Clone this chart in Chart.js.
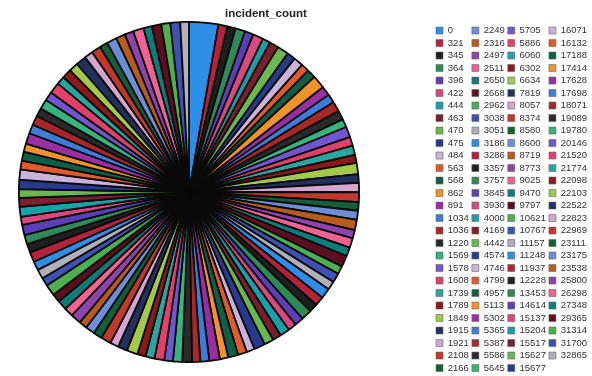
<!DOCTYPE html>
<html><head><meta charset="utf-8">
<script src="https://cdn.jsdelivr.net/npm/chart.js@4.4.0/dist/chart.umd.min.js"></script>
<style>html,body{margin:0;padding:0;background:#fff;}canvas{display:block}</style>
</head><body>
<canvas id="c" width="592" height="376"></canvas>
<script>
const chartTitle = 'incident_count';

const categories = [
  '0','321','345','364','396','422','444','463','470','475','484','563','568','862','891','1034','1036','1220','1569','1578','1608','1739','1789','1849','1915','1921','2108','2166',
  '2249','2316','2497','2511','2650','2668','2962','3038','3051','3186','3286','3357','3757','3845','3930','4000','4169','4442','4574','4746','4799','4957','5113','5302','5365','5387','5586','5645',
  '5705','5886','6060','6302','6634','7819','8057','8374','8580','8600','8719','8773','9025','9470','9797','10621','10767','11157','11248','11937','12228','13453','14614','15137','15204','15517','15627','15677',
  '16071','16132','17188','17414','17628','17698','18071','19089','19780','20146','21520','21774','22098','22103','22522','22823','22969','23111','23175','23538','25800','26298','27348','29365','31314','31700','32865'
];

const incidentCount = [
  310, 96, 88, 104, 92, 110, 84, 98, 120, 90, 102, 86, 94, 140, 100, 92, 108, 96, 88, 112, 94, 100, 86, 118, 92, 98, 104, 90,
  96, 110, 88, 102, 94, 120, 86, 100, 92, 108, 98, 90, 114, 96, 88, 104, 92, 100, 118, 86, 96, 106, 90, 112, 94, 88, 102, 98,
  92, 104, 96, 88, 116, 100, 90, 108, 94, 98, 86, 112, 96, 102, 90, 120, 88, 100, 94, 106, 92, 98, 110, 86, 104, 96, 90, 100,
  108, 92, 98, 86, 114, 96, 100, 90, 104, 94, 118, 88, 102, 96, 110, 92, 100, 86, 106, 98, 94, 112, 90, 100, 96, 104, 92
];

const palette = [
  '#2d8ee8','#b3243a','#1f1f1f','#2e8b57','#5a3fb8','#d9487d','#17a2a8','#7b1e2e','#69b84f','#283a8f',
  '#c9b3d9','#e05a2b','#0f5e46','#f0932b','#9a2fa3','#3d7dd8','#a82828','#2a2a2a','#36b37e','#7057d1',
  '#e2406a','#2aa5a0','#8b1a1a','#a3c94a','#22305e','#d3a5cf','#c0392b','#135f3a','#6c8ed8','#b85c1e',
  '#8e44ad','#f06292','#0e7c7b','#5d0f1f','#4caf50','#3f51b5','#b0b0b8'
];

const sliceColors = categories.map((_, i) => palette[i % palette.length]);

const pieArea = {left: 18, top: 21, right: 360, bottom: 363};
const titleSpan = {left: 0, right: 532};

const layoutTweak = {
  id: 'layoutTweak',
  afterLayout(chart) {
    const a = chart.chartArea;
    a.left = pieArea.left; a.top = pieArea.top; a.right = pieArea.right; a.bottom = pieArea.bottom;
    a.width = pieArea.right - pieArea.left; a.height = pieArea.bottom - pieArea.top;
    if (chart.titleBlock) { chart.titleBlock.left = titleSpan.left; chart.titleBlock.right = titleSpan.right; }
  }
};

new Chart(document.getElementById('c'), {
  type: 'pie',
  data: {
    labels: categories,
    datasets: [{
      data: incidentCount,
      backgroundColor: sliceColors,
      borderColor: '#0a0a0a',
      borderWidth: 1.8
    }]
  },
  options: {
    responsive: false,
    animation: false,
    layout: {padding: 0},
    plugins: {
      title: {
        display: true,
        text: chartTitle,
        color: '#222',
        font: {family: 'Liberation Sans', size: 11.5, weight: 'bold'},
        padding: {top: 7, bottom: 2}
      },
      legend: {
        position: 'right',
        align: 'start',
        fullSize: false,
        maxWidth: 159,
        labels: {
          boxWidth: 7,
          boxHeight: 7,
          padding: 3,
          color: '#333',
          font: {family: 'Liberation Sans', size: 9.5},
          generateLabels(chart) {
            const items = Chart.overrides.pie.plugins.legend.labels.generateLabels(chart);
            items.forEach(it => { it.lineWidth = 0.6; it.strokeStyle = '#666'; });
            return items;
          }
        }
      },
      tooltip: {enabled: false}
    }
  },
  plugins: [layoutTweak]
});
</script>
</body></html>
